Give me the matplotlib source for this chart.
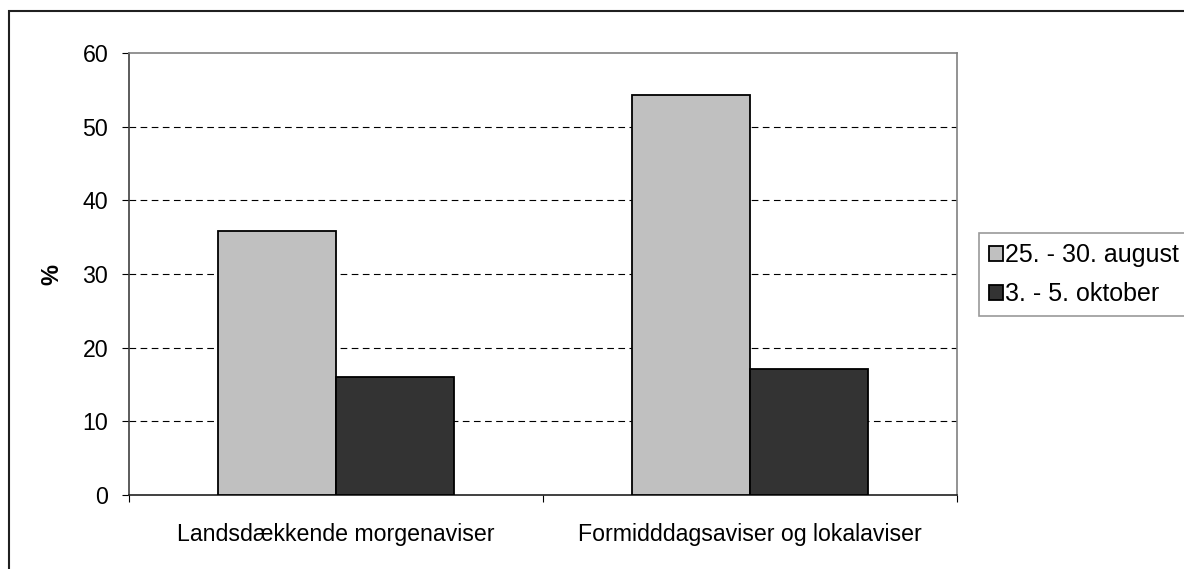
import matplotlib.pyplot as plt
import numpy as np
from matplotlib.patches import Rectangle

plt.rcParams['font.family'] = ['Liberation Sans', 'DejaVu Sans']

kategorier = ['Landsdækkende morgenaviser', 'Formidddagsaviser og lokalaviser']
serier = ['25. - 30. august', '3. - 5. oktober']
august = [35.8, 54.3]
oktober = [16.0, 17.1]
farver = ['#c0c0c0', '#333333']

W, H = 1184, 569
fig = plt.figure(figsize=(W / 100, H / 100), dpi=100)
ax = fig.add_axes([129 / W, 1 - 495 / H, (957 - 129) / W, (495 - 53) / H])

x = np.arange(len(kategorier))
width = 0.285
ax.bar(x - width / 2, august, width, color=farver[0], edgecolor='black',
       linewidth=1.3, label=serier[0], zorder=3)
ax.bar(x + width / 2, oktober, width, color=farver[1], edgecolor='black',
       linewidth=1.3, label=serier[1], zorder=3)

ax.set_xlim(-0.5, 1.5)
ax.set_ylim(0, 60)
ax.set_yticks(range(0, 61, 10))
ax.set_xticks([-0.5, 0.5, 1.5])
ax.set_xticklabels([])
ax.set_xticks(x, minor=True)
ax.set_xticklabels(kategorier, minor=True)
ax.tick_params(axis='x', which='major', direction='out', length=5, width=0.8, color='black')
ax.tick_params(axis='x', which='minor', length=0, pad=20, labelsize=16.7)
ax.tick_params(axis='y', direction='out', length=5, width=0.8, pad=10, labelsize=16.7)

for y in range(10, 60, 10):
    ax.axhline(y, color='black', linewidth=0.8, linestyle=(0, (6, 4)), zorder=1)

ax.spines['top'].set_color('#808080')
ax.spines['right'].set_color('#808080')
ax.spines['left'].set_color('#404040')
ax.spines['bottom'].set_color('#202020')
for s in ax.spines.values():
    s.set_linewidth(1.2)

ax.set_ylabel('%', fontsize=17, fontweight='bold', labelpad=14)

leg = fig.legend(loc='upper left', bbox_to_anchor=(979 / W, 1 - 233 / H),
                 frameon=True, fancybox=False, edgecolor='#808080',
                 fontsize=18, handlelength=0.55, handleheight=0.55,
                 handletextpad=0.1, borderpad=0.4, borderaxespad=0,
                 labelspacing=0.6)
leg.get_frame().set_linewidth(1.2)

# ramme om hele figuren
fig.patches.append(Rectangle((9 / W, -0.1), 1.2, 1 - 11 / H + 0.1,
                             transform=fig.transFigure, fill=False,
                             edgecolor='#202020', linewidth=1.5))

fig.savefig('out.png', dpi=100)
